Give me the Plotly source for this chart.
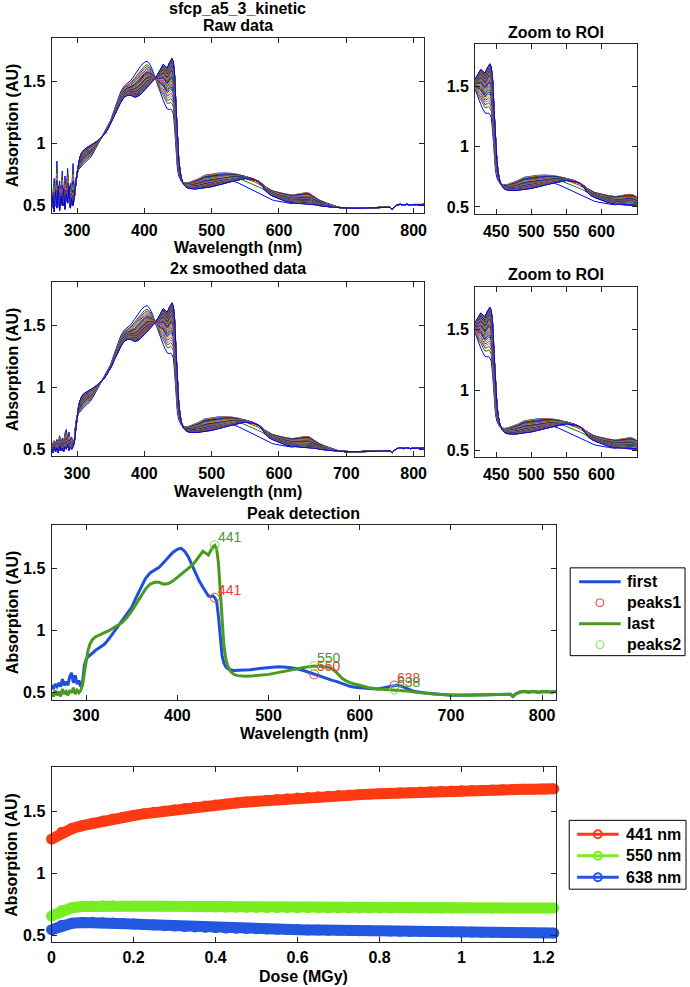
import numpy as np
import plotly.graph_objects as go

W, H = 690, 987
FONT = "Liberation Sans, Arial, Helvetica, sans-serif"

# ---------------- data ----------------
wavelength = [262, 264, 266, 268, 270, 272, 274, 276, 278, 280, 282, 284, 286, 288, 290,
              292, 294, 296, 298, 300, 302, 304, 307, 310, 315, 320, 325, 330, 335, 340,
              345, 350, 355, 360, 365, 370, 375, 380, 385, 390, 395, 400, 404, 408, 412,
              416, 420, 424, 428, 431, 434, 437, 439, 441, 443, 445, 447, 449, 451, 453,
              455, 458, 462, 466, 470, 475, 480, 490, 500, 510, 520, 530, 540, 550, 560,
              565, 570, 575, 580, 585, 590, 595, 600, 610, 620, 630, 635, 640, 645, 650,
              655, 660, 670, 680, 690, 700, 710, 720, 730, 740, 750, 760, 765, 768, 771,
              775, 780, 785, 790, 795, 800, 805, 810, 815]

# first spectrum (smoothed, as in "Peak detection")
first_spectrum = [0.56, 0.53, 0.57, 0.55, 0.58, 0.55, 0.61, 0.56, 0.59, 0.56, 0.63, 0.66, 0.58, 0.64, 0.57,
                  0.60, 0.55, 0.58, 0.72, 0.77, 0.79, 0.80, 0.82, 0.84, 0.865, 0.89, 0.935, 0.985, 1.035, 1.08,
                  1.13, 1.19, 1.27, 1.35, 1.42, 1.465, 1.49, 1.51, 1.55, 1.59, 1.63, 1.655, 1.665, 1.64, 1.595,
                  1.53, 1.465, 1.40, 1.35, 1.31, 1.28, 1.275, 1.28, 1.266, 1.24, 1.12, 0.93, 0.80, 0.74, 0.71,
                  0.695, 0.685, 0.68, 0.68, 0.68, 0.68, 0.685, 0.695, 0.705, 0.71, 0.705, 0.695, 0.675, 0.648, 0.625,
                  0.612, 0.60, 0.59, 0.575, 0.56, 0.55, 0.545, 0.54, 0.535, 0.53, 0.545, 0.555, 0.56, 0.555, 0.54,
                  0.525, 0.51, 0.50, 0.49, 0.485, 0.48, 0.48, 0.478, 0.48, 0.483, 0.485, 0.49, 0.488, 0.47, 0.49,
                  0.505, 0.51, 0.505, 0.51, 0.505, 0.51, 0.51, 0.505, 0.51]

# last spectrum (smoothed, as in "Peak detection")
last_spectrum = [0.50, 0.47, 0.52, 0.48, 0.51, 0.47, 0.53, 0.49, 0.51, 0.48, 0.52, 0.50, 0.54, 0.49, 0.52,
                 0.50, 0.52, 0.56, 0.66, 0.76, 0.84, 0.89, 0.93, 0.95, 0.97, 0.985, 1.0, 1.02, 1.045, 1.07,
                 1.11, 1.16, 1.22, 1.28, 1.335, 1.375, 1.39, 1.39, 1.375, 1.38, 1.40, 1.43, 1.455, 1.475, 1.50,
                 1.525, 1.56, 1.60, 1.64, 1.625, 1.61, 1.65, 1.675, 1.688, 1.66, 1.55, 1.30, 1.05, 0.88, 0.78,
                 0.72, 0.675, 0.648, 0.638, 0.635, 0.633, 0.634, 0.64, 0.648, 0.662, 0.678, 0.692, 0.705, 0.715, 0.712,
                 0.705, 0.69, 0.66, 0.62, 0.595, 0.58, 0.57, 0.56, 0.54, 0.53, 0.525, 0.525, 0.525, 0.522, 0.518,
                 0.512, 0.505, 0.495, 0.49, 0.485, 0.48, 0.48, 0.48, 0.482, 0.485, 0.487, 0.49, 0.488, 0.472, 0.49,
                 0.505, 0.512, 0.507, 0.512, 0.506, 0.511, 0.51, 0.507, 0.512]

# noisy raw values below 300 nm (raw data panel)
uv_wavelength = [262, 264, 266, 268, 270, 272, 274, 276, 278, 280, 282, 284, 286, 288, 290, 292, 294, 296, 298]
raw_first_uv = [0.66, 0.50, 0.72, 0.55, 0.86, 0.52, 0.70, 0.60, 0.78, 0.50, 0.74, 0.62, 0.80, 0.56, 0.68, 0.62, 0.84, 0.58, 0.70]
raw_last_uv = [0.47, 0.58, 0.45, 0.62, 0.48, 0.66, 0.46, 0.58, 0.50, 0.64, 0.47, 0.60, 0.52, 0.66, 0.48, 0.56, 0.50, 0.57, 0.68]

# kinetics (absorption at the detected peaks vs dose)
dose = [0.000, 0.025, 0.050, 0.075, 0.100, 0.125, 0.150, 0.175, 0.200, 0.225,
        0.250, 0.275, 0.300, 0.325, 0.350, 0.375, 0.400, 0.425, 0.450, 0.475,
        0.500, 0.525, 0.550, 0.575, 0.600, 0.625, 0.650, 0.675, 0.700, 0.725,
        0.750, 0.775, 0.800, 0.825, 0.850, 0.875, 0.900, 0.925, 0.950, 0.975,
        1.000, 1.025, 1.050, 1.075, 1.100, 1.125, 1.150, 1.175, 1.200, 1.225]
abs_441 = [1.275, 1.330, 1.360, 1.383, 1.403, 1.420, 1.436, 1.451, 1.465, 1.478,
           1.490, 1.501, 1.512, 1.522, 1.532, 1.541, 1.550, 1.558, 1.566, 1.573,
           1.580, 1.587, 1.593, 1.599, 1.605, 1.610, 1.615, 1.620, 1.625, 1.629,
           1.633, 1.637, 1.641, 1.645, 1.648, 1.651, 1.654, 1.657, 1.660, 1.662,
           1.664, 1.666, 1.668, 1.670, 1.672, 1.674, 1.676, 1.677, 1.678, 1.680]
abs_550 = [0.655, 0.700, 0.722, 0.732, 0.736, 0.737, 0.737, 0.736, 0.735, 0.734,
           0.733, 0.732, 0.731, 0.730, 0.729, 0.728, 0.727, 0.726, 0.725, 0.724,
           0.724, 0.723, 0.723, 0.722, 0.722, 0.722, 0.721, 0.721, 0.721, 0.721,
           0.720, 0.720, 0.720, 0.720, 0.720, 0.720, 0.720, 0.720, 0.720, 0.720,
           0.720, 0.720, 0.720, 0.720, 0.720, 0.720, 0.720, 0.720, 0.720, 0.720]
abs_638 = [0.545, 0.580, 0.597, 0.603, 0.604, 0.601, 0.598, 0.594, 0.590, 0.586,
           0.582, 0.578, 0.574, 0.570, 0.567, 0.564, 0.561, 0.558, 0.556, 0.554,
           0.552, 0.550, 0.548, 0.546, 0.545, 0.543, 0.542, 0.541, 0.540, 0.538,
           0.537, 0.536, 0.535, 0.534, 0.533, 0.532, 0.531, 0.530, 0.529, 0.528,
           0.527, 0.526, 0.525, 0.524, 0.523, 0.522, 0.521, 0.520, 0.519, 0.518]

peak_wavelengths = [441, 550, 638]
peak_labels = ["441", "550", "638"]
peak_legend_names = ["first", "peaks1", "last", "peaks2"]
kinetic_names = ["441 nm", "550 nm", "638 nm"]

wl_ticks = [300, 400, 500, 600, 700, 800]
roi_ticks = [450, 500, 550, 600]
abs_ticks = [0.5, 1, 1.5]
abs_tick_text = ["0.5", "1", "1.5"]
dose_ticks = [0, 0.2, 0.4, 0.6, 0.8, 1, 1.2]
dose_tick_text = ["0", "0.2", "0.4", "0.6", "0.8", "1", "1.2"]

# ---------------- build the spectral series ----------------
wl = np.array(wavelength, float)
first = np.array(first_spectrum, float)
last = np.array(last_spectrum, float)
k441 = np.array(abs_441); k550 = np.array(abs_550); k638 = np.array(abs_638)

frac = (k441 - k441[0]) / (k441[-1] - k441[0])
first550, last550 = np.interp(550, wl, first), np.interp(550, wl, last)
first638, last638 = np.interp(638, wl, first), np.interp(638, wl, last)
r550 = k550 - (first550 + frac * (last550 - first550))
r638 = k638 - (first638 + frac * (last638 - first638))

smooth_spectra = []
for j in range(len(dose)):
    base = first + frac[j] * (last - first)
    nodes = [458, 490, 550, 590, 620, 645, 690]
    vals = [0, r550[j], r550[j], 0.5 * (r550[j] + r638[j]), r638[j], r638[j], 0]
    smooth_spectra.append(base + np.interp(wl, nodes, vals, left=0, right=0))

uv_idx = [wavelength.index(w) for w in uv_wavelength]
raw_first = first.copy(); raw_last = last.copy()
raw_first[uv_idx] = raw_first_uv
raw_last[uv_idx] = raw_last_uv
raw_spectra = []
for j, s in enumerate(smooth_spectra):
    r = s.copy()
    r[uv_idx] = (raw_first + frac[j] * (raw_last - raw_first))[uv_idx]
    raw_spectra.append(r)

peaks1 = np.interp(peak_wavelengths, wl, first)
peaks2 = np.interp(peak_wavelengths, wl, last)

# ---------------- figure ----------------
line_colors = ["#0000FF", "#008000", "#FF0000", "#00BFBF", "#BF00BF", "#BFBF00", "#404040"]

fig = go.Figure()

def add_family(spectra, ax_id):
    for j, s in enumerate(spectra):
        fig.add_trace(go.Scatter(x=wl, y=s, mode="lines",
                                 line=dict(color=line_colors[j % 7], width=1),
                                 xaxis="x" + ax_id, yaxis="y" + ax_id,
                                 showlegend=False, hoverinfo="skip"))

add_family(raw_spectra, "")
add_family(raw_spectra, "2")
add_family(smooth_spectra, "3")
add_family(smooth_spectra, "4")

BLUE, GREEN, PK1, PK2 = "#1F4FDB", "#4A9A1E", "#EE3B3B", "#7CE35A"
fig.add_trace(go.Scatter(x=wl, y=first, mode="lines", name="first",
                         line=dict(color=BLUE, width=3), xaxis="x5", yaxis="y5"))
fig.add_trace(go.Scatter(x=peak_wavelengths, y=peaks1, mode="markers", name="peaks1",
                         marker=dict(symbol="circle-open", size=9, color=PK1, line=dict(width=1)),
                         xaxis="x5", yaxis="y5"))
fig.add_trace(go.Scatter(x=wl, y=last, mode="lines", name="last",
                         line=dict(color=GREEN, width=3), xaxis="x5", yaxis="y5"))
fig.add_trace(go.Scatter(x=peak_wavelengths, y=peaks2, mode="markers", name="peaks2",
                         marker=dict(symbol="circle-open", size=9, color=PK2, line=dict(width=1)),
                         xaxis="x5", yaxis="y5"))

kin_colors = ["#FF3A12", "#78EE22", "#2457E0"]
for name, series, col in zip(kinetic_names, [abs_441, abs_550, abs_638], kin_colors):
    fig.add_trace(go.Scatter(x=dose, y=series, mode="lines+markers", name=name,
                             line=dict(color=col, width=11),
                             marker=dict(symbol="circle", size=11, color=col),
                             xaxis="x6", yaxis="y6", cliponaxis=False))

def px_dom_x(a, b):
    return [a / W, b / W]

def px_dom_y(top, bottom):
    return [1 - bottom / H, 1 - top / H]

AXCOL = "#262626"
def axis(domain, rng, tv, tt, anchor, standoff):
    return dict(domain=domain, range=rng, tickvals=tv, ticktext=tt, anchor=anchor,
                showline=True, mirror="ticks", linecolor=AXCOL, linewidth=1,
                ticks="inside", ticklen=5, tickcolor=AXCOL, tickwidth=1,
                showgrid=False, zeroline=False, fixedrange=True, ticklabelstandoff=standoff,
                tickfont=dict(family=FONT, size=16, color="black", weight="bold"))

YR = [0.445, 1.852]
wl_txt = [str(v) for v in wl_ticks]
roi_txt = [str(v) for v in roi_ticks]
boxes = {
    "": ((48, 424), (38, 213), [262, 815], wl_ticks, wl_txt),
    "2": ((476, 639), (44, 214), [420, 650], roi_ticks, roi_txt),
    "3": ((48, 424), (283, 457), [262, 815], wl_ticks, wl_txt),
    "4": ((476, 639), (288, 458), [420, 650], roi_ticks, roi_txt),
    "5": ((48, 557.5), (526, 701), [262, 815], wl_ticks, wl_txt),
    "6": ((48, 557.5), (769, 944), [0, 1.23], dose_ticks, dose_tick_text),
}
layout_axes = {}
for k, (xs, ys, xr, tv, tt) in boxes.items():
    layout_axes["xaxis" + k] = axis(px_dom_x(*xs), xr, tv, tt, "y" + k, 1 if k in ("5", "6") else 3)
    layout_axes["yaxis" + k] = axis(px_dom_y(*ys), YR, abs_ticks, abs_tick_text, "x" + k, 2)

def ann(text, x, y, size=16, bold=True, color="black", angle=0, xanchor="center"):
    return dict(text=text, x=x / W, y=1 - y / H, xref="paper", yref="paper",
                xanchor=xanchor, yanchor="middle", showarrow=False, textangle=angle,
                font=dict(family=FONT, size=size, color=color, weight="bold" if bold else "normal"))

annotations = [
    ann("sfcp_a5_3_kinetic", 236, 8.5),
    ann("Raw data", 236, 26),
    ann("Zoom to ROI", 557.5, 33),
    ann("2x smoothed data", 236, 269),
    ann("Zoom to ROI", 557.5, 275),
    ann("Peak detection", 302.75, 515),
    ann("Wavelength (nm)", 236, 248),
    ann("Wavelength (nm)", 236, 492),
    ann("Wavelength (nm)", 302.75, 735),
    ann("Dose (MGy)", 302.75, 978),
]
for yc in [125.5, 370, 613.5, 856.5]:
    annotations.append(ann("Absorption (AU)", 8, yc, angle=-90))

for lab, xv, yv in zip(peak_labels, peak_wavelengths, peaks1):
    annotations.append(dict(text=lab, x=xv, y=yv, xref="x5", yref="y5", xanchor="left",
                            yanchor="middle", xshift=1, yshift=8, showarrow=False,
                            font=dict(family=FONT, size=14, color=PK1)))
for lab, xv, yv in zip(peak_labels, peak_wavelengths, peaks2):
    annotations.append(dict(text=lab, x=xv, y=yv, xref="x5", yref="y5", xanchor="left",
                            yanchor="middle", xshift=1, yshift=8, showarrow=False,
                            font=dict(family=FONT, size=14, color=GREEN)))

# ---------------- legends (boxed, MATLAB style) ----------------
shapes = []
def px_x(v): return v / W
def px_y(v): return 1 - v / H

def legend_box(x0, y0, x1, y1):
    shapes.append(dict(type="rect", xref="paper", yref="paper", x0=px_x(x0), x1=px_x(x1),
                       y0=px_y(y1), y1=px_y(y0), line=dict(color="black", width=1),
                       fillcolor="white", layer="above"))

def legend_line(x0, x1, y, col, width):
    shapes.append(dict(type="line", xref="paper", yref="paper", x0=px_x(x0), x1=px_x(x1),
                       y0=px_y(y), y1=px_y(y), line=dict(color=col, width=width), layer="above"))

def legend_circle(cx, cy, r, col, width):
    shapes.append(dict(type="circle", xref="paper", yref="paper", x0=px_x(cx - r), x1=px_x(cx + r),
                       y0=px_y(cy + r), y1=px_y(cy - r), line=dict(color=col, width=width),
                       fillcolor="rgba(0,0,0,0)", layer="above"))

# peak-detection legend
legend_box(572, 569, 688, 657)
peak_rows = [583, 604, 625, 646]
legend_line(581, 623, peak_rows[0], BLUE, 3)
legend_circle(602, peak_rows[1], 4, PK1, 1)
legend_line(581, 623, peak_rows[2], GREEN, 3)
legend_circle(602, peak_rows[3], 4, PK2, 1)
for name, yy in zip(peak_legend_names, peak_rows):
    annotations.append(ann(name, 627, yy, xanchor="left"))

# kinetics legend
legend_box(571, 822, 689, 891)
kin_rows = [836, 857.5, 879]
for name, col, yy in zip(kinetic_names, kin_colors, kin_rows):
    legend_line(579, 621, yy, col, 3)
    legend_circle(600, yy, 4, col, 2)
    annotations.append(ann(name, 626, yy, xanchor="left"))

fig.update_layout(
    width=W, height=H, margin=dict(l=0, r=0, t=0, b=0),
    paper_bgcolor="white", plot_bgcolor="white", showlegend=False,
    annotations=annotations, shapes=shapes,
    **layout_axes,
)

fig.write_html("out.html", config={"displayModeBar": False},
               post_script="document.body.style.margin='0';document.body.style.overflow='hidden';")
